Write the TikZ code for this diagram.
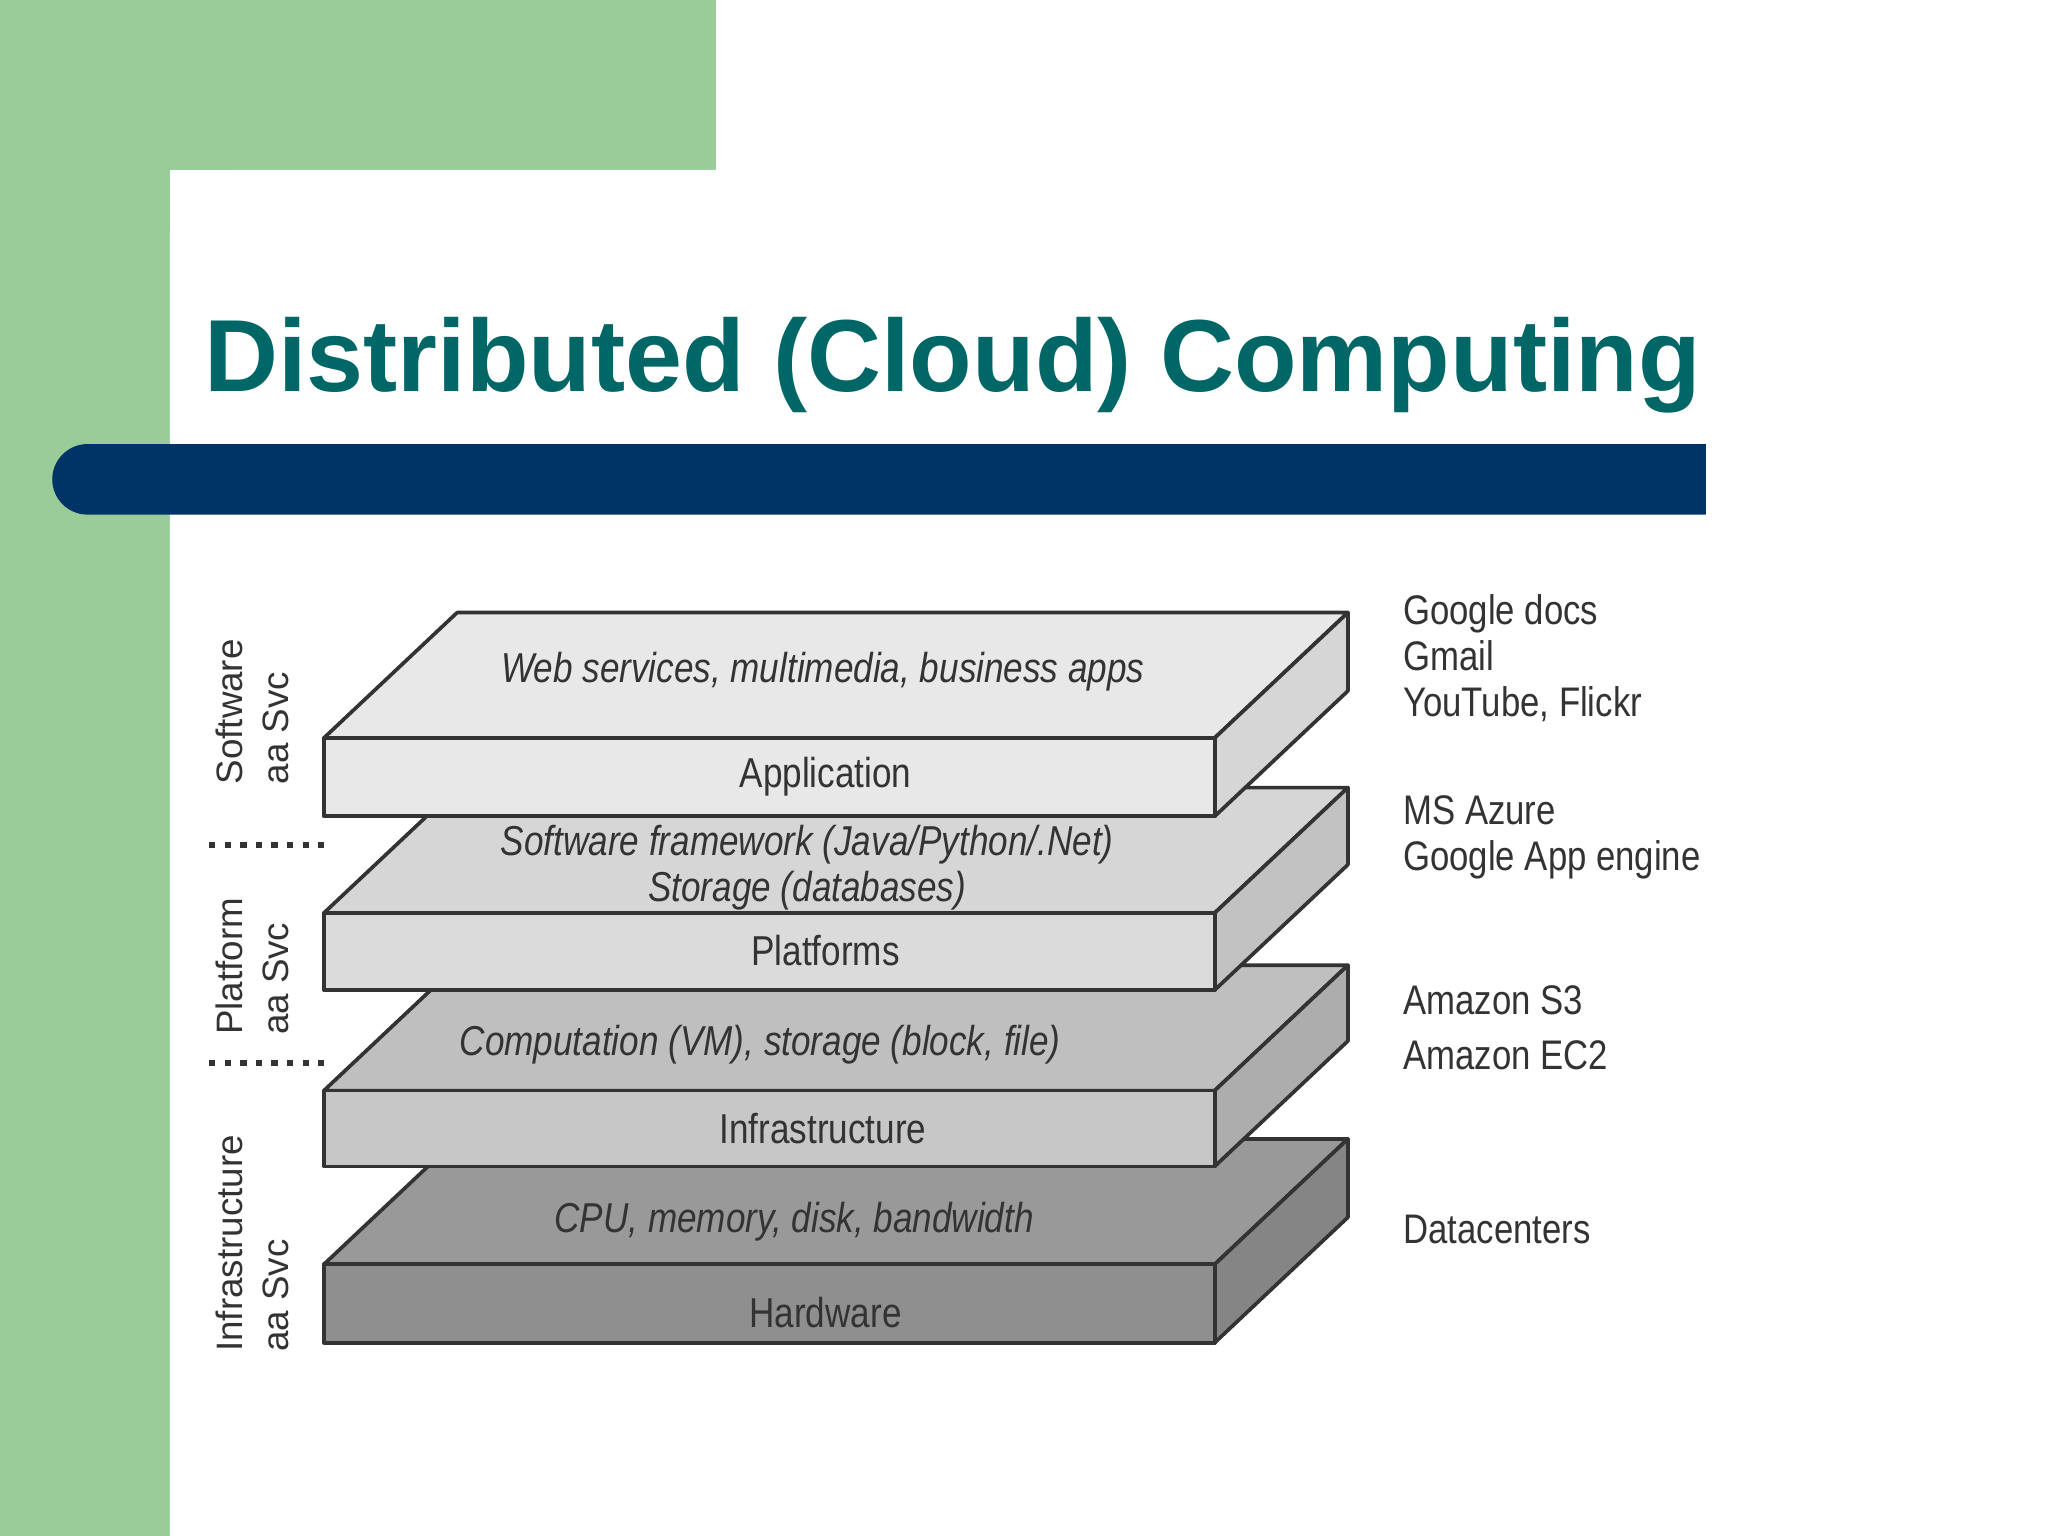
\documentclass[tikz,border=0pt]{standalone}
\usepackage{fontspec}
\setmainfont{Liberation Sans}
\newfontfamily\narrow{Liberation Sans}[FakeStretch=0.84]
\definecolor{grn}{HTML}{99CC99}
\definecolor{navy}{HTML}{003366}
\definecolor{teal}{HTML}{006666}
\definecolor{txt}{HTML}{333333}
\begin{document}
\begin{tikzpicture}[x=0.01cm,y=-0.01cm,
  face/.style={draw=black!80,line width=0.8pt,line join=round},
  toplbl/.style={font=\narrow\fontsize{9.1}{10}\selectfont\itshape,text=txt,align=center},
  frontlbl/.style={font=\narrow\fontsize{9.1}{10}\selectfont,text=txt},
  rlbl/.style={font=\narrow\fontsize{9}{10}\selectfont,text=txt,anchor=west,align=left},
  llbl/.style={font=\fontsize{8}{10}\selectfont,text=txt,rotate=90,align=left},
  dots/.style={dotted,line width=1.4pt,black!80}]
\useasboundingbox (0,0) rectangle (1568,1176);
\fill[grn] (0,0) rectangle (548,130);
\fill[grn] (0,0) rectangle (130,1176);
\fill[white] (130,1176) -- (130,180) arc[start angle=180,end angle=270,radius=50] -- (548,130) -- (548,1176) -- cycle;
\fill[white] (548,0) rectangle (1568,1176);
\fill[navy] (1306,340) -- (67,340) arc[start angle=270,end angle=90,radius=27] -- (1306,394) -- cycle;
\node[text=teal,anchor=west] (title) at (144,280) {\resizebox{11.45cm}{!}{\bfseries Distributed (Cloud) Computing}};
% slabs (bottom first)
\foreach \yt/\yb/\ctop/\cside/\cfront in {968/1028/black!40/black!48/black!44, 835/893/black!25/black!32/black!22, 699/758/black!16/black!24/black!14, 565/625/black!9/black!16/black!9}{
  \draw[face,fill=\ctop] (248,\yt) -- (350,\yt-96) -- (1032,\yt-96) -- (930,\yt) -- cycle;
  \draw[face,fill=\cside] (930,\yt) -- (1032,\yt-96) -- (1032,\yb-96) -- (930,\yb) -- cycle;
  \draw[face,fill=\cfront] (248,\yt) rectangle (930,\yb);
}
\node[toplbl] (t1) at (630,514) {Web services, multimedia, business apps};
\node[frontlbl] (f1) at (632,595) {Application};
\node[toplbl,align=center] (t2) at (618,664) {Software framework (Java/Python/.Net)\\Storage (databases)};
\node[frontlbl] (f2) at (632,728) {Platforms};
\node[toplbl] (t3) at (582,800) {Computation (VM), storage (block, file)};
\node[frontlbl] (f3) at (630,864) {Infrastructure};
\node[toplbl] (t4) at (608,935) {CPU, memory, disk, bandwidth};
\node[frontlbl] (f4) at (632,1005) {Hardware};
\node[rlbl] (r1) at (1062,504) {Google docs\\Gmail\\YouTube, Flickr};
\node[rlbl] (r2) at (1062,641) {MS Azure\\Google App engine};
\node[rlbl] (r3) at (1062,766) {Amazon S3};
\node[rlbl] (r4) at (1062,808) {Amazon EC2};
\node[rlbl] (r5) at (1062,941) {Datacenters};
\node[llbl] (l1) at (193,545) {Software\\aa Svc};
\node[llbl] (l2) at (193,740) {Platform\\aa Svc};
\node[llbl] (l3) at (193,952) {Infrastructure\\aa Svc};
\coordinate (d1a) at (160,647); \coordinate (d1b) at (248,647);
\coordinate (d2a) at (160,814); \coordinate (d2b) at (248,814);
\draw[dots] (d1a) -- (d1b);
\draw[dots] (d2a) -- (d2b);
\end{tikzpicture}
\end{document}
